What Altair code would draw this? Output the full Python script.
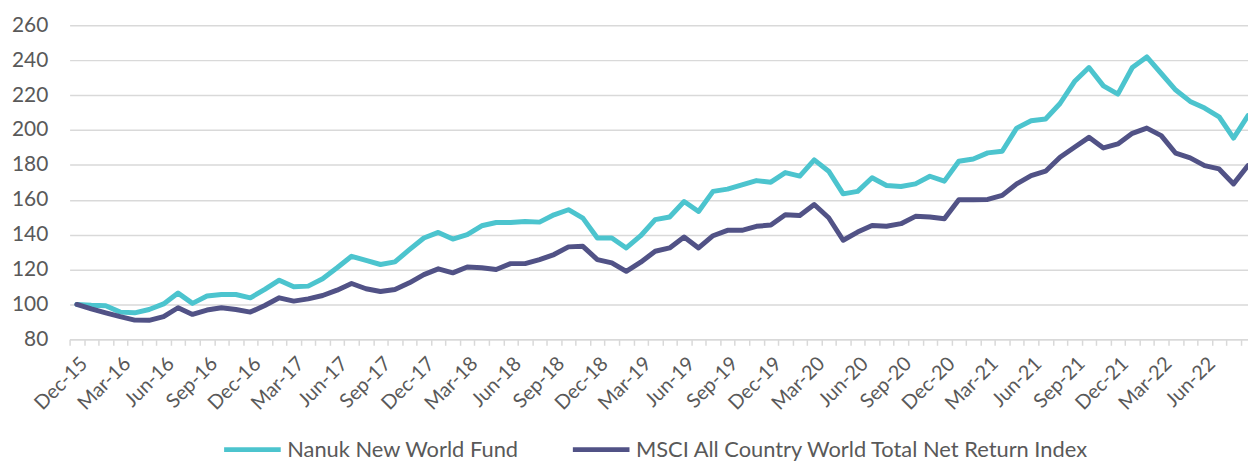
import altair as alt
import pandas as pd

# Monthly index values, Dec-15 .. Sep-22 (82 months)
MONTHS = list(pd.date_range("2015-12-01", periods=82, freq="MS").strftime("%b-%y"))

TICK_LABELS = ["Dec-15", "Mar-16", "Jun-16", "Sep-16", "Dec-16", "Mar-17", "Jun-17",
               "Sep-17", "Dec-17", "Mar-18", "Jun-18", "Sep-18", "Dec-18", "Mar-19",
               "Jun-19", "Sep-19", "Dec-19", "Mar-20", "Jun-20", "Sep-20", "Dec-20",
               "Mar-21", "Jun-21", "Sep-21", "Dec-21", "Mar-22", "Jun-22"]

NANUK = [100, 99.5, 99.2, 95.6, 95.2, 97.1, 100.3, 106.5, 100.6, 104.8,
         105.7, 105.7, 103.8, 108.6, 113.9, 110.1, 110.5, 114.7, 121.0, 127.6,
         125.3, 122.9, 124.4, 131.4, 138.1, 141.3, 137.5, 140.0, 145.1, 147.0,
         147.0, 147.6, 147.2, 151.4, 154.3, 149.5, 138.1, 138.1, 132.4, 139.4,
         148.6, 150.1, 159.0, 153.3, 164.8, 166.1, 168.6, 171.0, 170.1, 175.6,
         173.6, 182.9, 176.4, 163.4, 164.8, 172.6, 168.2, 167.6, 169.1, 173.5,
         170.7, 182.1, 183.4, 186.9, 187.8, 201.1, 205.3, 206.3, 215.2, 227.8,
         235.8, 225.3, 220.6, 235.8, 241.9, 232.4, 222.9, 216.4, 212.6, 207.6,
         195.4, 208.2]

MSCI = [100, 97.5, 95.2, 93.0, 91.0, 90.9, 93.0, 98.1, 94.3, 96.8,
        98.1, 97.1, 95.6, 99.4, 103.8, 101.9, 103.2, 105.1, 108.2, 112.0,
        109.0, 107.4, 108.6, 112.4, 117.1, 120.4, 118.1, 121.5, 121.0, 120.0,
        123.4, 123.4, 125.7, 128.6, 133.0, 133.3, 125.7, 123.8, 119.0, 124.2,
        130.5, 132.4, 138.7, 132.4, 139.4, 142.5, 142.5, 144.8, 145.5, 151.4,
        151.0, 157.3, 149.7, 136.8, 141.5, 145.3, 144.8, 146.3, 150.5, 150.1,
        149.1, 160.0, 160.0, 160.2, 162.5, 169.1, 173.9, 176.4, 184.4, 190.1,
        195.8, 189.7, 192.0, 198.1, 201.1, 196.8, 186.7, 184.0, 179.6, 177.7,
        169.1, 179.6]

SERIES = ["Nanuk New World Fund", "MSCI All Country World Total Net Return Index"]
COLORS = ["#4CC4CE", "#515286"]
Y_TICKS = [80, 100, 120, 140, 160, 180, 200, 220, 240, 260]

rows = []
for name, vals in zip(SERIES, [NANUK, MSCI]):
    for i, v in enumerate(vals):
        rows.append({"i": i, "month": MONTHS[i], "series": name, "value": v})
df = pd.DataFrame(rows)

label_arr = "[" + ",".join(
    ("'" + m + "'") if m in TICK_LABELS else "''" for m in MONTHS
) + "]"

PLOT_W = 1186
PLOT_H = 316
STEP = PLOT_W / 81.5
TEXT = "#595959"
GRID = "#D9D9D9"

chart = alt.Chart(df).mark_line(
    strokeWidth=5, strokeCap="round", strokeJoin="round", clip=False
).encode(
    x=alt.X(
        "i:Q",
        scale=alt.Scale(domain=[-0.5, 81], nice=False, zero=False),
        axis=alt.Axis(
            title=None,
            values=list(range(len(MONTHS))),
            labelExpr=label_arr + "[datum.value]",
            labelOverlap=False,
            labelAngle=315,
            labelAlign="right",
            labelBaseline="top",
            labelFont="Lato",
            labelFontSize=20,
            labelColor=TEXT,
            labelPadding=8,
            tickOffset=-STEP / 2,
            labelOffset=STEP / 2,
            tickSize=6,
            tickColor=GRID,
            tickWidth=1.5,
            domainColor=GRID,
            domainWidth=1.5,
            grid=False,
        ),
    ),
    y=alt.Y(
        "value:Q",
        scale=alt.Scale(domain=[80, 260], nice=False, zero=False),
        axis=alt.Axis(
            title=None,
            values=Y_TICKS,
            ticks=False,
            domain=False,
            grid=True,
            gridColor=GRID,
            gridWidth=1.5,
            labelFont="Lato",
            labelFontSize=21,
            labelColor=TEXT,
            labelPadding=22,
        ),
    ),
    color=alt.Color(
        "series:N",
        sort=SERIES,
        scale=alt.Scale(domain=SERIES, range=COLORS),
        legend=alt.Legend(
            title=None,
            orient="none",
            legendX=153,
            legendY=396,
            direction="horizontal",
            symbolType="stroke",
            symbolSize=57 * 57,
            symbolStrokeWidth=5,
            labelFont="Lato",
            labelFontSize=22,
            labelColor=TEXT,
            labelOffset=4,
            columnPadding=43,
            labelLimit=600,
        ),
    ),
    order=alt.Order("series:N", sort="descending"),
).properties(
    width=PLOT_W,
    height=PLOT_H,
    autosize=alt.AutoSizeParams(type="none"),
    padding={"left": 62, "top": 16, "right": 0, "bottom": 122},
).configure_view(stroke=None)

chart.save("out.html", embed_options={"renderer": "svg", "actions": False})
